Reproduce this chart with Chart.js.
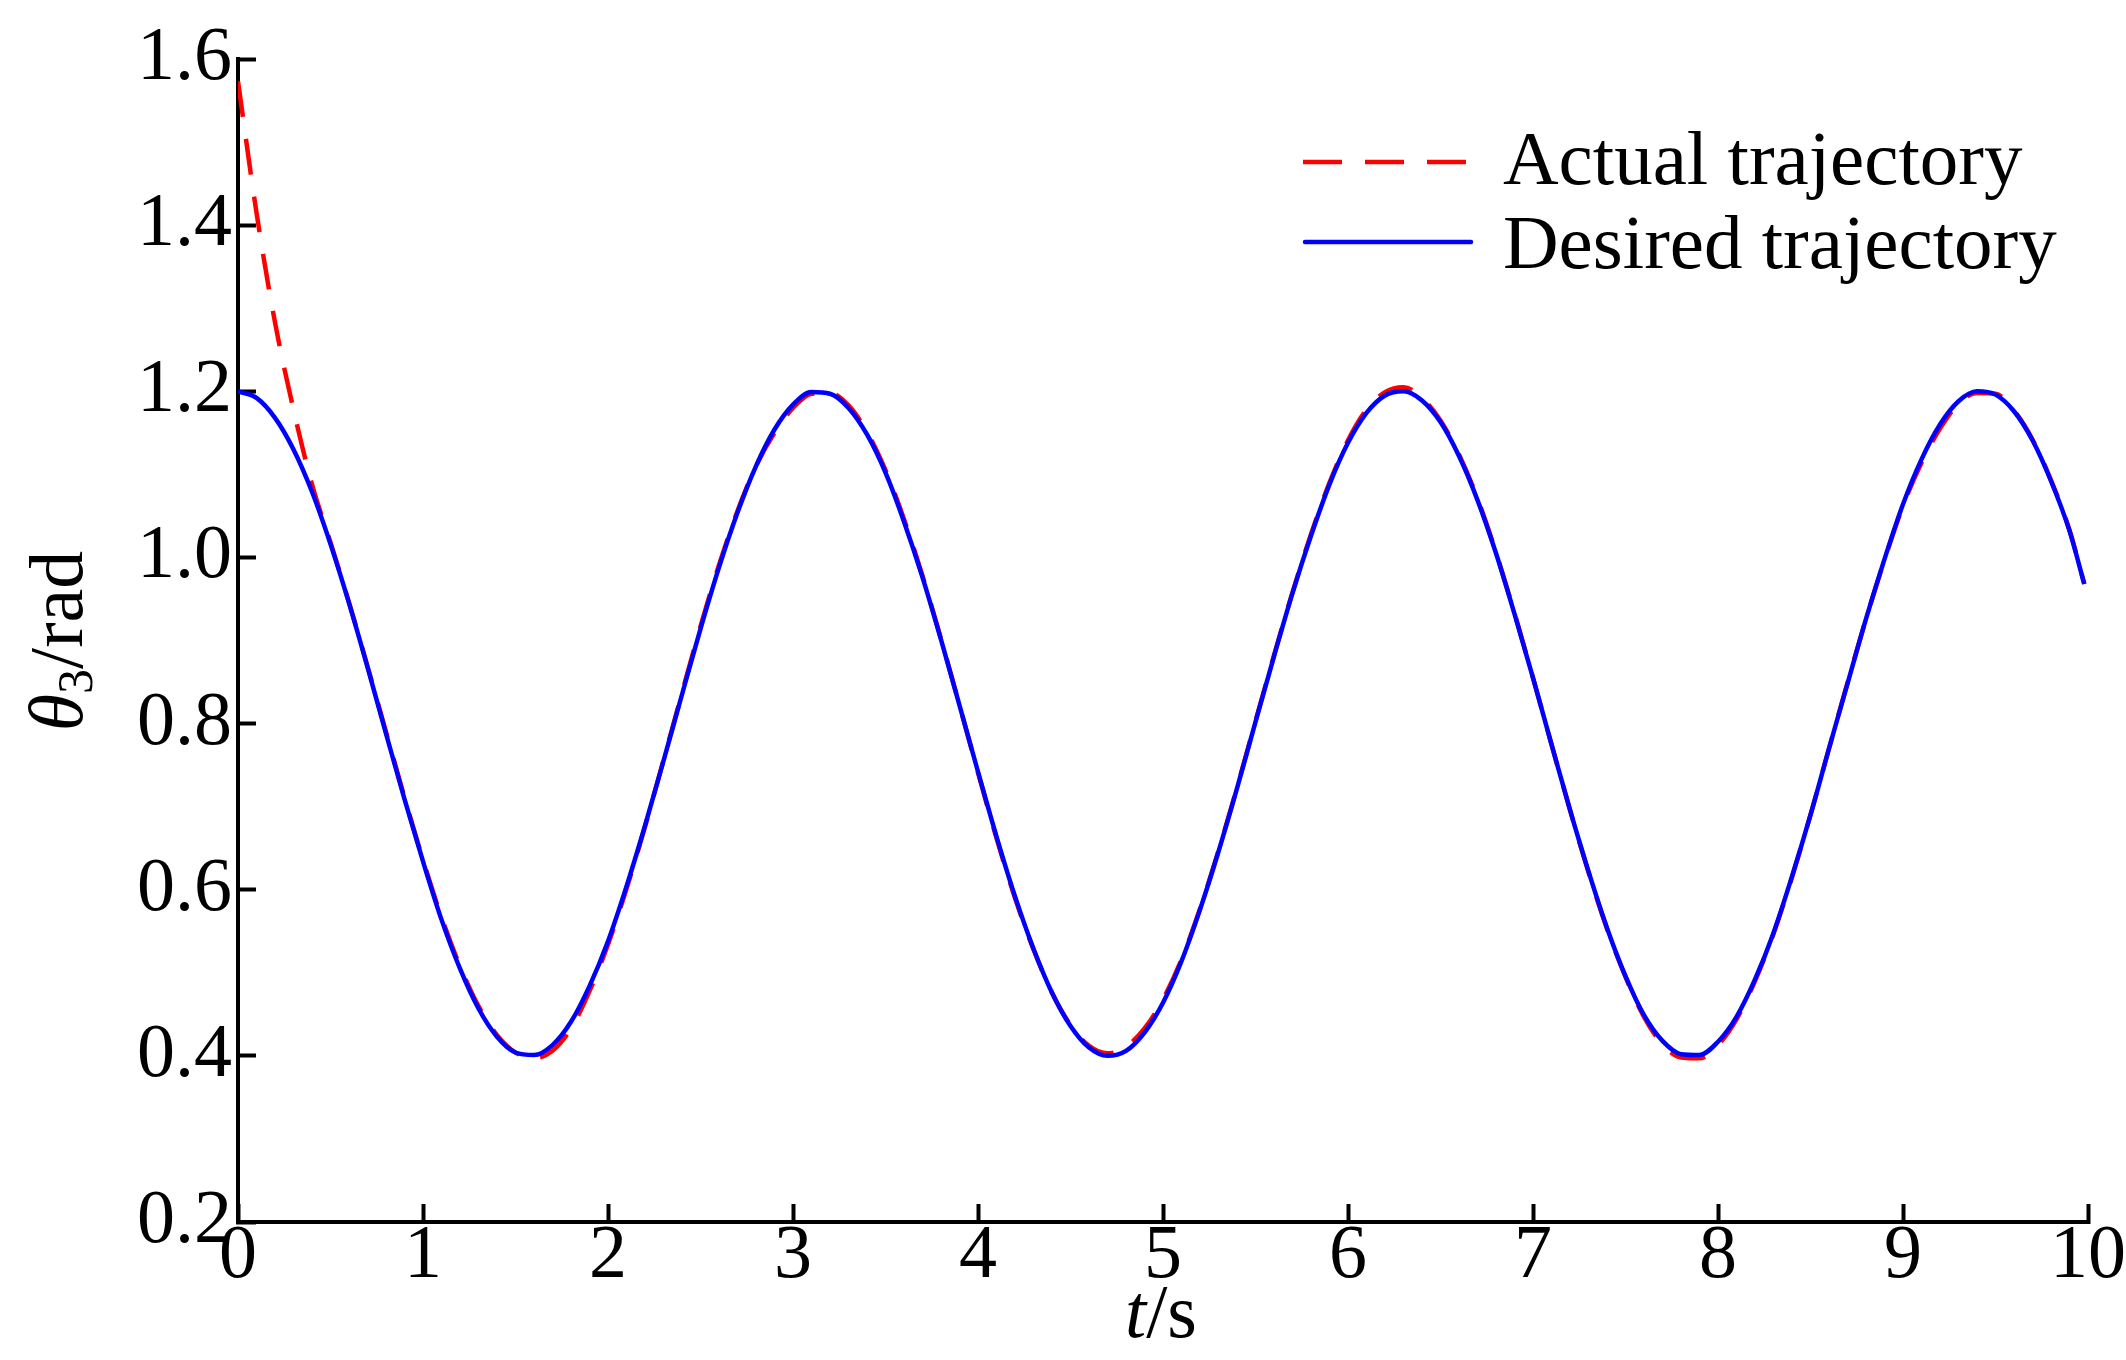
<!DOCTYPE html>
<html>
<head>
<meta charset="utf-8">
<script src="https://cdn.jsdelivr.net/npm/chart.js@4"></script>
<style>
  body { margin: 0; background: #fff; }
  #wrap { width: 2126px; height: 1360px; }
</style>
</head>
<body>
<div id="wrap"><canvas id="trajChart" width="2126" height="1360"></canvas></div>
<script>
// time samples (s)
const times = [
  0.0, 0.1, 0.2, 0.3, 0.4, 0.5, 0.6, 0.7, 0.8, 0.9,
  1.0, 1.1, 1.2, 1.3, 1.4, 1.5, 1.6, 1.7, 1.8, 1.9,
  2.0, 2.1, 2.2, 2.3, 2.4, 2.5, 2.6, 2.7, 2.8, 2.9,
  3.0, 3.1, 3.2, 3.3, 3.4, 3.5, 3.6, 3.7, 3.8, 3.9,
  4.0, 4.1, 4.2, 4.3, 4.4, 4.5, 4.6, 4.7, 4.8, 4.9,
  5.0, 5.1, 5.2, 5.3, 5.4, 5.5, 5.6, 5.7, 5.8, 5.9,
  6.0, 6.1, 6.2, 6.3, 6.4, 6.5, 6.6, 6.7, 6.8, 6.9,
  7.0, 7.1, 7.2, 7.3, 7.4, 7.5, 7.6, 7.7, 7.8, 7.9,
  8.0, 8.1, 8.2, 8.3, 8.4, 8.5, 8.6, 8.7, 8.8, 8.9,
  9.0, 9.1, 9.2, 9.3, 9.4, 9.5, 9.6, 9.7, 9.8, 9.9,
  9.98
];

// actual trajectory (rad), red dashed
const actual = [
  1.573, 1.415, 1.283, 1.178, 1.088, 1.018, 0.946, 0.869, 0.790, 0.711,
  0.636, 0.567, 0.508, 0.460, 0.425, 0.404, 0.397, 0.406, 0.433, 0.478,
  0.534, 0.601, 0.676, 0.756, 0.837, 0.917, 0.991, 1.056, 1.110, 1.150,
  1.180, 1.197, 1.198, 1.183, 1.151, 1.105, 1.046, 0.978, 0.902, 0.822,
  0.741, 0.662, 0.590, 0.528, 0.476, 0.437, 0.412, 0.403, 0.411, 0.433,
  0.468, 0.516, 0.577, 0.647, 0.723, 0.803, 0.882, 0.958, 1.028, 1.090,
  1.141, 1.178, 1.199, 1.205, 1.192, 1.165, 1.124, 1.071, 1.006, 0.933,
  0.855, 0.775, 0.696, 0.621, 0.553, 0.495, 0.447, 0.414, 0.398, 0.397,
  0.413, 0.444, 0.490, 0.547, 0.615, 0.690, 0.770, 0.849, 0.926, 0.997,
  1.062, 1.114, 1.155, 1.185, 1.198, 1.197, 1.177, 1.142, 1.093, 1.033,
  0.968
];

// desired trajectory (rad), blue solid
const desired = [
  1.200, 1.192, 1.168, 1.130, 1.079, 1.016, 0.945, 0.868, 0.788, 0.709,
  0.634, 0.564, 0.505, 0.457, 0.423, 0.404, 0.401, 0.413, 0.441, 0.484,
  0.538, 0.604, 0.677, 0.755, 0.835, 0.914, 0.988, 1.054, 1.110, 1.154,
  1.184, 1.199, 1.197, 1.180, 1.148, 1.102, 1.043, 0.976, 0.901, 0.822,
  0.742, 0.664, 0.592, 0.529, 0.476, 0.436, 0.410, 0.400, 0.406, 0.428,
  0.464, 0.514, 0.576, 0.646, 0.722, 0.802, 0.881, 0.957, 1.026, 1.088,
  1.138, 1.174, 1.195, 1.200, 1.189, 1.163, 1.122, 1.069, 1.005, 0.932,
  0.855, 0.775, 0.696, 0.622, 0.554, 0.496, 0.449, 0.418, 0.402, 0.401,
  0.417, 0.447, 0.492, 0.548, 0.616, 0.690, 0.770, 0.848, 0.926, 0.998,
  1.064, 1.118, 1.160, 1.188, 1.200, 1.196, 1.176, 1.141, 1.092, 1.032,
  0.968
];

const seriesNames = ['Actual trajectory', 'Desired trajectory'];
const seriesColors = ['#ff0000', '#0000ff'];

const SERIF = '"Liberation Serif", "Times New Roman", serif';

function toPoints(ys) {
  return ys.map((y, i) => ({ x: times[i], y: y }));
}

// axis titles + legend drawn by hand (mixed italic / subscript text)
const annotate = {
  id: 'annotate',
  afterDraw(chart) {
    const ctx = chart.ctx;
    ctx.save();
    ctx.fillStyle = '#000';
    ctx.textBaseline = 'alphabetic';

    // y title: theta_3/rad, rotated
    ctx.save();
    ctx.translate(82, 641);
    ctx.rotate(-Math.PI / 2);
    const fBig = '76px ' + SERIF;
    const fIt = 'italic 76px ' + SERIF;
    const fSub = '50px ' + SERIF;
    ctx.font = fIt; const wTh = ctx.measureText('\u03B8').width;
    ctx.font = fSub; const wSub = ctx.measureText('3').width;
    ctx.font = fBig; const wRest = ctx.measureText('/rad').width;
    let x0 = -(wTh + wSub + wRest) / 2;
    ctx.font = fIt; ctx.fillText('\u03B8', x0, 0); x0 += wTh;
    ctx.font = fSub; ctx.fillText('3', x0, 10); x0 += wSub;
    ctx.font = fBig; ctx.fillText('/rad', x0, 0);
    ctx.restore();

    // x title: t/s
    ctx.font = fIt; const wT = ctx.measureText('t').width;
    ctx.font = fBig; const wS = ctx.measureText('/s').width;
    let xs = 1161 - (wT + wS) / 2;
    ctx.font = fIt; ctx.fillText('t', xs, 1337);
    ctx.font = fBig; ctx.fillText('/s', xs + wT, 1337);

    // legend
    ctx.lineWidth = 4.5;
    ctx.strokeStyle = seriesColors[0];
    ctx.setLineDash([39, 23]);
    ctx.beginPath(); ctx.moveTo(1303, 162); ctx.lineTo(1466, 162); ctx.stroke();
    ctx.setLineDash([]);
    ctx.strokeStyle = seriesColors[1];
    ctx.lineCap = 'round';
    ctx.beginPath(); ctx.moveTo(1305, 242); ctx.lineTo(1471, 242); ctx.stroke();
    ctx.font = '77px ' + SERIF;
    ctx.fillText(seriesNames[0], 1503, 184);
    ctx.fillText(seriesNames[1], 1503, 268);
    ctx.restore();
  }
};

const ctxChart = document.getElementById('trajChart').getContext('2d');
const trajChart = new Chart(ctxChart, {
  type: 'line',
  data: {
    datasets: [
      {
        label: seriesNames[1],
        data: toPoints(desired),
        borderColor: seriesColors[1],
        borderWidth: 4.5,
        pointRadius: 0,
        cubicInterpolationMode: 'monotone',
        order: 0
      },
      {
        label: seriesNames[0],
        data: toPoints(actual),
        borderColor: seriesColors[0],
        borderWidth: 4.5,
        borderDash: [36, 22],
        pointRadius: 0,
        cubicInterpolationMode: 'monotone',
        order: 1
      }
    ]
  },
  options: {
    responsive: false,
    animation: false,
    layout: { autoPadding: false, padding: { top: 59, right: 38, bottom: 0, left: 0 } },
    plugins: {
      legend: { display: false },
      tooltip: { enabled: false }
    },
    scales: {
      x: {
        type: 'linear',
        min: 0,
        max: 10,
        ticks: {
          stepSize: 1,
          padding: 7,
          color: '#000',
          font: { family: SERIF, size: 76 },
          maxRotation: 0
        },
        grid: { drawOnChartArea: false, drawTicks: true, tickLength: -18, tickWidth: 4, tickColor: '#000' },
        border: { display: true, color: '#000', width: 4 },
        afterFit(scale) {
          scale.height = 138;
          scale.paddingLeft = 0;
          scale.paddingRight = 0;
        }
      },
      y: {
        min: 0.2,
        max: 1.6,
        ticks: {
          stepSize: 0.2,
          padding: 24,
          color: '#000',
          font: { family: SERIF, size: 76 },
          callback: (v) => v.toFixed(1)
        },
        grid: { drawOnChartArea: false, drawTicks: true, tickLength: -18, tickWidth: 4, tickColor: '#000' },
        border: { display: true, color: '#000', width: 4 },
        afterFit(scale) {
          scale.width = 238;
          scale.paddingTop = 0;
          scale.paddingBottom = 0;
        }
      }
    }
  },
  plugins: [annotate]
});
</script>
</body>
</html>
